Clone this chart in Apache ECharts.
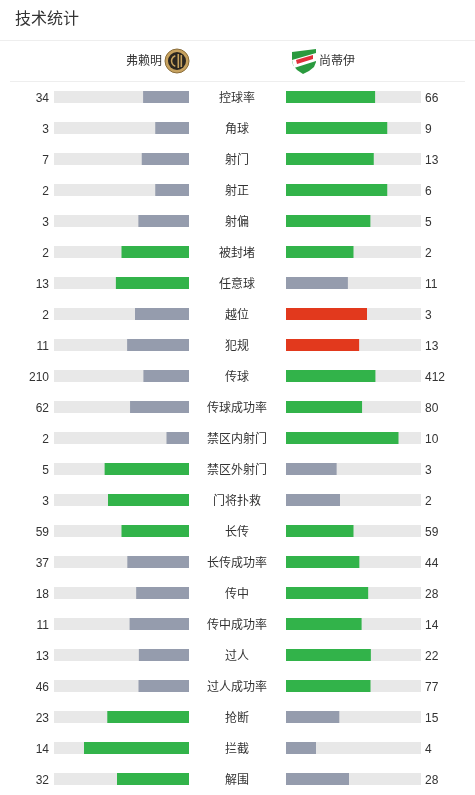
<!DOCTYPE html>
<html>
<head>
<meta charset="utf-8">
<script src="https://cdn.jsdelivr.net/npm/echarts@6/dist/echarts.min.js"></script>
<style>
html,body{margin:0;padding:0;background:#fff;}
#chart{width:475px;height:795px;}
</style>
</head>
<body>
<div id="chart"></div>
<script>
const title = '技术统计';
const homeTeam = '弗赖明';
const awayTeam = '尚蒂伊';
const stats = ['控球率','角球','射门','射正','射偏','被封堵','任意球','越位','犯规','传球','传球成功率','禁区内射门','禁区外射门','门将扑救','长传','长传成功率','传中','传中成功率','过人','过人成功率','抢断','拦截','解围'];
const homeValues = [34,3,7,2,3,2,13,2,11,210,62,2,5,3,59,37,18,11,13,46,23,14,32];
const awayValues = [66,9,13,6,5,2,11,3,13,412,80,10,3,2,59,44,28,14,22,77,15,4,28];
const negativeStats = ['越位','犯规'];

const GREEN = '#32b34a', GREY = '#959cad', RED = '#e2391d', TRACK = '#e8e8e8';
function colorFor(mine, other, stat){
  const neg = negativeStats.indexOf(stat) >= 0;
  if (mine > other) return neg ? RED : GREEN;
  if (mine === other) return GREEN;
  return GREY;
}
const homeData = stats.map((s,i)=>({value: homeValues[i]/(homeValues[i]+awayValues[i]), itemStyle:{color: colorFor(homeValues[i], awayValues[i], s)}}));
const awayData = stats.map((s,i)=>({value: awayValues[i]/(homeValues[i]+awayValues[i]), itemStyle:{color: colorFor(awayValues[i], homeValues[i], s)}}));

const FONT = 'Arial, "Liberation Sans", "Noto Sans CJK SC", sans-serif';
const chart = echarts.init(document.getElementById('chart'));
const hidden = {axisLine:{show:false}, axisTick:{show:false}, splitLine:{show:false}};
const rich = {a:{color:'#333', fontSize:12, fontFamily:FONT, padding:[4,0,0,0]}};
const wrap = t => '{a|' + t + '}';
chart.setOption({
  backgroundColor:'#fff',
  animation:false,
  textStyle:{fontFamily: FONT},
  grid:[
    {left:54, width:135, top:81.5, height:713},
    {left:286, width:135, top:81.5, height:713}
  ],
  xAxis:[
    {gridIndex:0, type:'value', min:0, max:1, inverse:true, show:false},
    {gridIndex:1, type:'value', min:0, max:1, show:false}
  ],
  yAxis:[
    Object.assign({gridIndex:0, type:'category', data:stats, inverse:true, position:'left',
      axisLabel:{formatter:(v,i)=>wrap(homeValues[i]), margin:5, rich:rich}}, hidden),
    Object.assign({gridIndex:1, type:'category', data:stats, inverse:true, position:'left',
      axisLabel:{formatter:(v)=>wrap(v), align:'center', margin:49, rich:rich}}, hidden),
    Object.assign({gridIndex:1, type:'category', data:stats, inverse:true, position:'right',
      axisLabel:{formatter:(v,i)=>wrap(awayValues[i]), margin:4, rich:rich}}, hidden)
  ],
  series:[
    {type:'bar', xAxisIndex:0, yAxisIndex:0, data:homeData, barWidth:12, showBackground:true, backgroundStyle:{color:TRACK}},
    {type:'bar', xAxisIndex:1, yAxisIndex:1, data:awayData, barWidth:12, showBackground:true, backgroundStyle:{color:TRACK}}
  ],
  graphic:[
    {type:'text', x:15, y:20, style:{text:title, fontSize:16, fill:'#333', verticalAlign:'middle', fontFamily:FONT}},
    {type:'line', shape:{x1:0,y1:40.5,x2:475,y2:40.5}, style:{stroke:'#eeeeee', lineWidth:1}},
    {type:'line', shape:{x1:10,y1:81.5,x2:465,y2:81.5}, style:{stroke:'#eeeeee', lineWidth:1}},
    {type:'text', x:162, y:62, style:{text:homeTeam, fontSize:12, fill:'#333', align:'right', verticalAlign:'middle', fontFamily:FONT}},
    {type:'text', x:319, y:62, style:{text:awayTeam, fontSize:12, fill:'#333', align:'left', verticalAlign:'middle', fontFamily:FONT}},
    {type:'circle', shape:{cx:177,cy:61,r:12}, style:{fill:'#c7a25f', stroke:'#8a6d3b', lineWidth:1}},
    {type:'circle', shape:{cx:177,cy:61,r:9}, style:{fill:'#2b2620'}},
    {type:'rect', shape:{x:177.5,y:54,width:1.6,height:14}, style:{fill:'#c7a25f'}},
    {type:'rect', shape:{x:180.5,y:55,width:1.6,height:12}, style:{fill:'#c7a25f'}},
    {type:'arc', shape:{cx:177,cy:61,r:5.5,startAngle:Math.PI*0.6,endAngle:Math.PI*1.4}, style:{stroke:'#c7a25f', lineWidth:1.6, fill:null}},
    {type:'polygon', shape:{points:[[292,52],[316,49],[316,62],[314,67],[309,71],[303,74],[297,70],[293,65],[292,60]]}, style:{fill:'#2a9a3e'}},
    {type:'polygon', shape:{points:[[292,60],[316,53],[316,61],[294,68]]}, style:{fill:'#ffffff'}},
    {type:'polygon', shape:{points:[[296,60],[313,55],[313,59],[297,64]]}, style:{fill:'#e0303a'}}
  ]
});
</script>
</body>
</html>
